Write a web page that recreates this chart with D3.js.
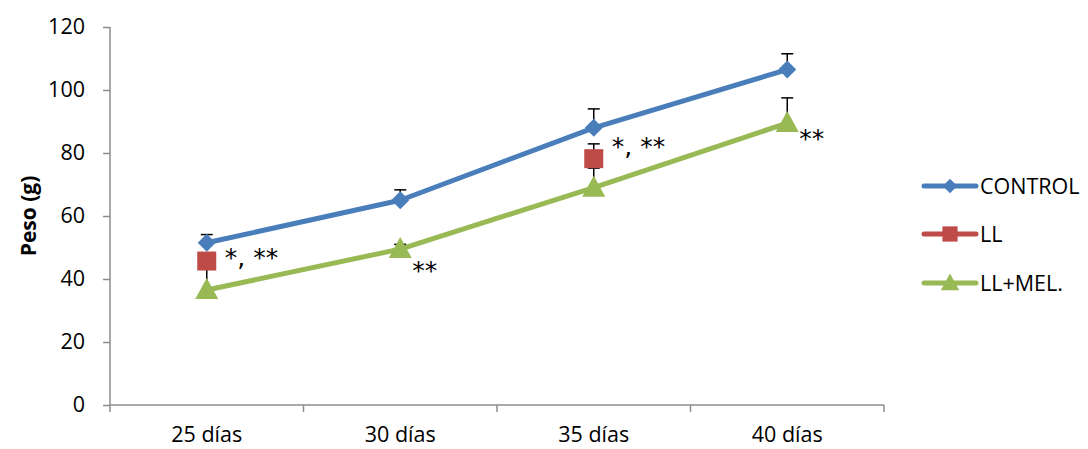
<!DOCTYPE html>
<html>
<head>
<meta charset="utf-8">
<script src="https://cdn.jsdelivr.net/npm/d3@7"></script>
<style>
  html, body { margin: 0; padding: 0; background: #ffffff; }
  svg { display: block; font-family: "Open Sans", "Liberation Sans", sans-serif; }
</style>
</head>
<body>
<svg id="chart" width="1088" height="449"></svg>
<script>
// Body weight by age and treatment group
const categories = ["25 días", "30 días", "35 días", "40 días"];
const seriesNames = ["CONTROL", "LL", "LL+MEL."];
const controlValues = [51.5, 65, 88, 106.5];
const llValues = [45.7, null, 78.2, null];
const llMelValues = [36.5, 49.5, 69, 89.5];
// upper error bar length (g)
const controlErrors = [2.6, 3.3, 6, 5];
const llErrors = [1.8, null, 4.7, null];
const llMelErrors = [8.5, 1.5, 6.2, 8];
const yTicks = [0, 20, 40, 60, 80, 100, 120];
// significance marks: category, series index, text
const notes = [
  { cat: "25 días", series: 1, text: "*, **" },
  { cat: "30 días", series: 2, text: "**" },
  { cat: "35 días", series: 1, text: "*, **" },
  { cat: "40 días", series: 2, text: "**" }
];

const colors = ["#4A7EBB", "#BE4B48", "#98B954"];
const shapes = ["diamond", "square", "triangle"];
const valuesBySeries = [controlValues, llValues, llMelValues];
const errorsBySeries = [controlErrors, llErrors, llMelErrors];

const svg = d3.select("#chart");
const plot = { left: 110, right: 884, top: 27, bottom: 405 };

const x = d3.scaleBand().domain(categories).range([plot.left, plot.right]).padding(0);
const y = d3.scaleLinear().domain([0, 120]).range([plot.bottom, plot.top]);
const cx = c => x(c) + x.bandwidth() / 2;

const axisColor = "#8c8c8c";
const fontSize = 21.5;

// Y axis
const yAxis = svg.append("g")
  .attr("transform", `translate(${plot.left},0)`)
  .call(d3.axisLeft(y).tickValues(yTicks).tickSize(7).tickPadding(18).tickFormat(d3.format("d")));
yAxis.select(".domain").attr("stroke", axisColor).attr("stroke-width", 1.5)
  .attr("d", `M0,${plot.top}V${plot.bottom}`);
yAxis.selectAll(".tick line").attr("stroke", axisColor).attr("stroke-width", 1.5);
yAxis.selectAll(".tick text").attr("font-size", fontSize).attr("fill", "#000")
  .attr("font-family", "Open Sans");

// X axis with boundary ticks between categories
const xAxis = svg.append("g").attr("transform", `translate(0,${plot.bottom})`);
xAxis.append("line").attr("x1", plot.left).attr("x2", plot.right)
  .attr("stroke", axisColor).attr("stroke-width", 1.5);
const bounds = categories.map(c => x(c)).concat([plot.right]);
xAxis.selectAll("line.bt").data(bounds).join("line").attr("class", "bt")
  .attr("x1", d => d).attr("x2", d => d).attr("y1", 0).attr("y2", 7)
  .attr("stroke", axisColor).attr("stroke-width", 1.5);
xAxis.selectAll("text").data(categories).join("text")
  .attr("x", d => cx(d)).attr("y", 37)
  .attr("text-anchor", "middle").attr("font-size", fontSize).attr("fill", "#000")
  .text(d => d);

// Y axis title
svg.append("text")
  .attr("transform", `translate(36,${(plot.top + plot.bottom) / 2}) rotate(-90)`)
  .attr("text-anchor", "middle").attr("font-size", 21).attr("font-weight", "bold")
  .text("Peso (g)");

// Marker shapes
function markerPath(shape) {
  if (shape === "diamond") return "M0,-9L9,0L0,9L-9,0Z";
  if (shape === "square") return "M-9.5,-9.5H9.5V9.5H-9.5Z";
  return "M0,-12L11.5,9L-11.5,9Z";
}

// Error bars (upper only)
const errLayer = svg.append("g");
valuesBySeries.forEach((vals, si) => {
  categories.forEach((c, i) => {
    const v = vals[i], e = errorsBySeries[si][i];
    if (v == null || e == null) return;
    const px = cx(c);
    errLayer.append("line").attr("x1", px).attr("x2", px)
      .attr("y1", y(v)).attr("y2", y(v + e)).attr("stroke", "#000").attr("stroke-width", 1.5);
    errLayer.append("line").attr("x1", px - 6).attr("x2", px + 6)
      .attr("y1", y(v + e)).attr("y2", y(v + e)).attr("stroke", "#000").attr("stroke-width", 1.5);
  });
});

// Series lines
const line = d3.line().defined(d => d.v != null).x(d => cx(d.c)).y(d => y(d.v));
valuesBySeries.forEach((vals, si) => {
  const pts = categories.map((c, i) => ({ c, v: vals[i] }));
  svg.append("path").datum(pts).attr("d", line)
    .attr("fill", "none").attr("stroke", colors[si]).attr("stroke-width", 5)
    .attr("stroke-linejoin", "round").attr("stroke-linecap", "round");
});

// Markers
valuesBySeries.forEach((vals, si) => {
  categories.forEach((c, i) => {
    if (vals[i] == null) return;
    svg.append("path").attr("d", markerPath(shapes[si]))
      .attr("transform", `translate(${cx(c)},${y(vals[i])})`)
      .attr("fill", colors[si]);
  });
});

// Significance marks
const noteOffsets = [[18, 5], [12, 30], [18, -4], [12, 24]];
notes.forEach((n, k) => {
  const v = valuesBySeries[n.series][categories.indexOf(n.cat)];
  svg.append("text")
    .attr("x", cx(n.cat) + noteOffsets[k][0]).attr("y", y(v) + noteOffsets[k][1])
    .attr("font-size", 25).attr("fill", "#000")
    .attr("font-family", "DejaVu Sans")
    .text(n.text);
});

// Legend
const legend = svg.append("g");
const legendY = [186, 234, 283];
seriesNames.forEach((name, si) => {
  const g = legend.append("g").attr("transform", `translate(0,${legendY[si]})`);
  g.append("line").attr("x1", 924).attr("x2", 976)
    .attr("stroke", colors[si]).attr("stroke-width", 5).attr("stroke-linecap", "round");
  g.append("path").attr("d", markerPath(shapes[si]))
    .attr("transform", "translate(950,0) scale(0.8)").attr("fill", colors[si]);
  g.append("text").attr("x", 980).attr("y", 0).attr("dy", "0.35em")
    .attr("font-size", fontSize).attr("fill", "#000").text(name);
});
</script>
</body>
</html>
